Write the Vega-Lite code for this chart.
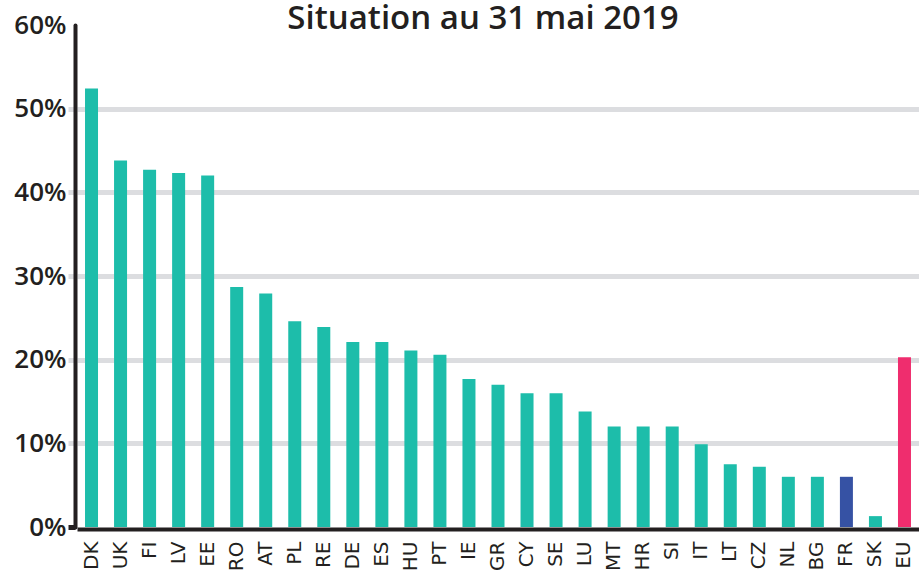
{
  "$schema": "https://vega.github.io/schema/vega-lite/v6.json",
  "autosize": "none",
  "width": 842,
  "height": 502,
  "padding": {"left": 77, "top": 25, "right": 0, "bottom": 45},
  "background": "white",
  "title": {
    "text": "Situation au 31 mai 2019",
    "font": "Open Sans",
    "fontSize": 33,
    "fontWeight": 600,
    "color": "#231f20",
    "anchor": "middle",
    "frame": "group",
    "dx": -15,
    "baseline": "alphabetic",
    "offset": -50
  },
  "data": {
    "values": [
      {"pays": "DK", "taux": 52.4, "groupe": "pays"},
      {"pays": "UK", "taux": 43.8, "groupe": "pays"},
      {"pays": "FI", "taux": 42.7, "groupe": "pays"},
      {"pays": "LV", "taux": 42.3, "groupe": "pays"},
      {"pays": "EE", "taux": 42.0, "groupe": "pays"},
      {"pays": "RO", "taux": 28.7, "groupe": "pays"},
      {"pays": "AT", "taux": 27.9, "groupe": "pays"},
      {"pays": "PL", "taux": 24.6, "groupe": "pays"},
      {"pays": "RE", "taux": 23.9, "groupe": "pays"},
      {"pays": "DE", "taux": 22.1, "groupe": "pays"},
      {"pays": "ES", "taux": 22.1, "groupe": "pays"},
      {"pays": "HU", "taux": 21.1, "groupe": "pays"},
      {"pays": "PT", "taux": 20.6, "groupe": "pays"},
      {"pays": "IE", "taux": 17.7, "groupe": "pays"},
      {"pays": "GR", "taux": 17.0, "groupe": "pays"},
      {"pays": "CY", "taux": 16.0, "groupe": "pays"},
      {"pays": "SE", "taux": 16.0, "groupe": "pays"},
      {"pays": "LU", "taux": 13.8, "groupe": "pays"},
      {"pays": "MT", "taux": 12.0, "groupe": "pays"},
      {"pays": "HR", "taux": 12.0, "groupe": "pays"},
      {"pays": "SI", "taux": 12.0, "groupe": "pays"},
      {"pays": "IT", "taux": 9.9, "groupe": "pays"},
      {"pays": "LT", "taux": 7.5, "groupe": "pays"},
      {"pays": "CZ", "taux": 7.2, "groupe": "pays"},
      {"pays": "NL", "taux": 6.0, "groupe": "pays"},
      {"pays": "BG", "taux": 6.0, "groupe": "pays"},
      {"pays": "FR", "taux": 6.0, "groupe": "France"},
      {"pays": "SK", "taux": 1.3, "groupe": "pays"},
      {"pays": "EU", "taux": 20.3, "groupe": "UE"}
    ]
  },
  "mark": {"type": "bar", "width": 13},
  "encoding": {
    "x": {
      "field": "pays",
      "type": "nominal",
      "sort": null,
      "scale": {"paddingInner": 0, "paddingOuter": 0},
      "axis": {
        "title": null,
        "labelAngle": -90,
        "labelAlign": "right",
        "labelBaseline": "middle",
        "labelFont": "DejaVu Sans",
        "labelFontSize": 20,
        "labelColor": "#231f20",
        "ticks": false,
        "tickSize": 0,
        "domainColor": "#231f20",
        "domainWidth": 4,
        "offset": 2,
        "labelPadding": 12
      }
    },
    "y": {
      "field": "taux",
      "type": "quantitative",
      "scale": {"domain": [0, 60]},
      "axis": {
        "title": null,
        "values": [0, 10, 20, 30, 40, 50, 60],
        "labelExpr": "datum.value + '%'",
        "domainColor": "#231f20",
        "domainWidth": 4,
        "domainCap": "round",
        "offset": 2,
        "grid": true,
        "gridColor": "#dcdde0",
        "gridWidth": 5,
        "gridOpacity": {"condition": {"test": "datum.value == 0 || datum.value == 60", "value": 0}, "value": 1},
        "ticks": true,
        "tickSize": 7,
        "tickWidth": 5,
        "tickColor": {"condition": {"test": "datum.value == 0", "value": "#231f20"}, "value": "#dcdde0"},
        "tickOpacity": {"condition": {"test": "datum.value == 60", "value": 0}, "value": 1},
        "labelFont": "Open Sans",
        "labelFontSize": 26,
        "labelFontWeight": 600,
        "labelColor": "#231f20",
        "labelPadding": 2
      }
    },
    "color": {
      "field": "groupe",
      "type": "nominal",
      "scale": {"domain": ["pays", "France", "UE"], "range": ["#1dbdaa", "#3652a4", "#ef2d6e"]},
      "legend": null
    }
  },
  "config": {"view": {"stroke": null}}
}
